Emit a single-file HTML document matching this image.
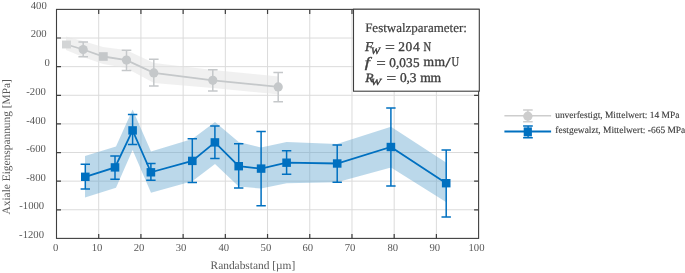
<!DOCTYPE html>
<html><head><meta charset="utf-8"><style>
html,body{text-rendering:geometricPrecision;-webkit-font-smoothing:antialiased;margin:0;padding:0;background:#fff;width:685px;height:273px;overflow:hidden;font-family:"Liberation Serif",serif;font-kerning:none;}
text{font-kerning:none;}
svg{display:block;will-change:transform;}
</style></head><body>
<svg width="685" height="273" viewBox="0 0 685 273">
<path d="M98.71 9.4V238.4 M140.92 9.4V238.4 M183.13 9.4V238.4 M225.34 9.4V238.4 M267.55 9.4V238.4 M309.76 9.4V238.4 M351.97 9.4V238.4 M394.18 9.4V238.4 M436.39 9.4V238.4 M56.5 38.02H478.6 M56.5 66.65H478.6 M56.5 95.28H478.6 M56.5 123.90H478.6 M56.5 152.53H478.6 M56.5 181.15H478.6 M56.5 209.78H478.6" stroke="#dbdbdb" stroke-width="1" fill="none"/>
<polygon points="66,36.5 83,41 103,47 126,50 154,63 213,70 279,76.5 279,94.5 213,88 154,83 126,68 103,64 83,57 66,50" fill="#e6e6e6" fill-opacity="0.6"/>
<polygon points="85,156 116,146.5 132.6,109.6 151,151.4 192.3,139 215,122 238.7,142 261,147.5 286.6,142 337,144 391,126.8 446,162.4 446,202 391,167.4 337,182.3 286.6,183.3 261,188.6 238.7,186.4 215,164 192.3,181.3 151,192.7 132.6,150 116,187.8 85,197.5" fill="#559ecb" fill-opacity="0.4"/>
<polyline points="66.5,44.5 83.2,49.5 103.3,56.5 126.5,60.1 153.8,72.9 212.8,80.3 278.2,86.9" fill="none" stroke="#c5c8ca" stroke-width="1.8"/>
<rect x="62.0" y="40.55" width="9" height="7.9" fill="#d3d5d6"/>
<path d="M83.2 42.0V56.8M78.4 42.0H88.0M78.4 56.8H88.0" stroke="#c5c8ca" stroke-width="1.5" fill="none"/>
<circle cx="83.2" cy="49.5" r="4.6" fill="#c5c8ca"/>
<rect x="98.89999999999999" y="52.2" width="8.8" height="8.6" fill="#c5c8ca"/>
<path d="M126.5 50.2V70.4M121.7 50.2H131.3M121.7 70.4H131.3" stroke="#c5c8ca" stroke-width="1.5" fill="none"/>
<circle cx="126.5" cy="60.1" r="4.6" fill="#c5c8ca"/>
<path d="M153.8 59.2V86.0M149.0 59.2H158.60000000000002M149.0 86.0H158.60000000000002" stroke="#c5c8ca" stroke-width="1.5" fill="none"/>
<circle cx="153.8" cy="72.9" r="4.6" fill="#c5c8ca"/>
<path d="M212.8 69.7V91.0M208.0 69.7H217.60000000000002M208.0 91.0H217.60000000000002" stroke="#c5c8ca" stroke-width="1.5" fill="none"/>
<circle cx="212.8" cy="80.3" r="4.6" fill="#c5c8ca"/>
<path d="M278.2 72.6V101.8M273.4 72.6H283.0M273.4 101.8H283.0" stroke="#c5c8ca" stroke-width="1.5" fill="none"/>
<circle cx="278.2" cy="86.9" r="4.6" fill="#c5c8ca"/>
<polyline points="85.3,176.8 115,167.4 132.6,130.4 150.9,172.3 192.3,160.9 214.9,142.4 238.7,166.2 261.1,168.6 286.6,162.7 337.2,163.5 390.9,147 446.2,183.2" fill="none" stroke="#0070c0" stroke-width="1.8"/>
<path d="M85.3 164.3V188.9M80.6 164.3H90.0M80.6 188.9H90.0" stroke="#0070c0" stroke-width="1.5" fill="none"/>
<rect x="81.0" y="172.60000000000002" width="8.6" height="8.4" fill="#0070c0"/>
<path d="M115 155.9V179.3M110.3 155.9H119.7M110.3 179.3H119.7" stroke="#0070c0" stroke-width="1.5" fill="none"/>
<rect x="110.7" y="163.20000000000002" width="8.6" height="8.4" fill="#0070c0"/>
<path d="M132.6 114.6V144.4M127.89999999999999 114.6H137.29999999999998M127.89999999999999 144.4H137.29999999999998" stroke="#0070c0" stroke-width="1.5" fill="none"/>
<rect x="128.29999999999998" y="126.2" width="8.6" height="8.4" fill="#0070c0"/>
<path d="M150.9 163.5V180.2M146.20000000000002 163.5H155.6M146.20000000000002 180.2H155.6" stroke="#0070c0" stroke-width="1.5" fill="none"/>
<rect x="146.6" y="168.10000000000002" width="8.6" height="8.4" fill="#0070c0"/>
<path d="M192.3 138.8V182.4M187.60000000000002 138.8H197.0M187.60000000000002 182.4H197.0" stroke="#0070c0" stroke-width="1.5" fill="none"/>
<rect x="188.0" y="156.70000000000002" width="8.6" height="8.4" fill="#0070c0"/>
<path d="M214.9 126V158.4M210.20000000000002 126H219.6M210.20000000000002 158.4H219.6" stroke="#0070c0" stroke-width="1.5" fill="none"/>
<rect x="210.6" y="138.20000000000002" width="8.6" height="8.4" fill="#0070c0"/>
<path d="M238.7 143.7V188.1M234.0 143.7H243.39999999999998M234.0 188.1H243.39999999999998" stroke="#0070c0" stroke-width="1.5" fill="none"/>
<rect x="234.39999999999998" y="162.0" width="8.6" height="8.4" fill="#0070c0"/>
<path d="M261.1 131.6V205.7M256.40000000000003 131.6H265.8M256.40000000000003 205.7H265.8" stroke="#0070c0" stroke-width="1.5" fill="none"/>
<rect x="256.8" y="164.4" width="8.6" height="8.4" fill="#0070c0"/>
<path d="M286.6 150.8V174.3M281.90000000000003 150.8H291.3M281.90000000000003 174.3H291.3" stroke="#0070c0" stroke-width="1.5" fill="none"/>
<rect x="282.3" y="158.5" width="8.6" height="8.4" fill="#0070c0"/>
<path d="M337.2 144.9V182.2M332.5 144.9H341.9M332.5 182.2H341.9" stroke="#0070c0" stroke-width="1.5" fill="none"/>
<rect x="332.9" y="159.3" width="8.6" height="8.4" fill="#0070c0"/>
<path d="M390.9 108.1V185.9M386.2 108.1H395.59999999999997M386.2 185.9H395.59999999999997" stroke="#0070c0" stroke-width="1.5" fill="none"/>
<rect x="386.59999999999997" y="142.8" width="8.6" height="8.4" fill="#0070c0"/>
<path d="M446.2 149.9V216.9M441.5 149.9H450.9M441.5 216.9H450.9" stroke="#0070c0" stroke-width="1.5" fill="none"/>
<rect x="441.9" y="179.0" width="8.6" height="8.4" fill="#0070c0"/>
<rect x="56.5" y="9.4" width="422.10" height="229.00" fill="none" stroke="#3f3f3f" stroke-width="1.1"/>
<path d="M98.71 9.4v4.5M98.71 238.4v-4.5 M140.92 9.4v4.5M140.92 238.4v-4.5 M183.13 9.4v4.5M183.13 238.4v-4.5 M225.34 9.4v4.5M225.34 238.4v-4.5 M267.55 9.4v4.5M267.55 238.4v-4.5 M309.76 9.4v4.5M309.76 238.4v-4.5 M351.97 9.4v4.5M351.97 238.4v-4.5 M394.18 9.4v4.5M394.18 238.4v-4.5 M436.39 9.4v4.5M436.39 238.4v-4.5 M56.5 38.02h4.5M478.6 38.02h-4.5 M56.5 66.65h4.5M478.6 66.65h-4.5 M56.5 95.28h4.5M478.6 95.28h-4.5 M56.5 123.90h4.5M478.6 123.90h-4.5 M56.5 152.53h4.5M478.6 152.53h-4.5 M56.5 181.15h4.5M478.6 181.15h-4.5 M56.5 209.78h4.5M478.6 209.78h-4.5" stroke="#3f3f3f" stroke-width="1.2" fill="none"/>
<rect x="353.5" y="9.2" width="125.8" height="82.0" fill="#fff" stroke="#3f3f3f" stroke-width="1.1"/>
<text x="30.79" y="8.70" font-family="'Liberation Serif', serif" font-size="10.67" fill="#595959">400</text>
<text x="30.63" y="37.40" font-family="'Liberation Serif', serif" font-size="10.67" fill="#595959">200</text>
<text x="44.49" y="65.90" font-family="'Liberation Serif', serif" font-size="10.67" fill="#595959">0</text>
<text x="26.30" y="94.70" font-family="'Liberation Serif', serif" font-size="10.67" fill="#595959">-200</text>
<text x="26.30" y="123.60" font-family="'Liberation Serif', serif" font-size="10.67" fill="#595959">-400</text>
<text x="26.30" y="152.00" font-family="'Liberation Serif', serif" font-size="10.67" fill="#595959">-600</text>
<text x="26.30" y="180.75" font-family="'Liberation Serif', serif" font-size="10.67" fill="#595959">-800</text>
<text x="19.30" y="209.30" font-family="'Liberation Serif', serif" font-size="10.67" fill="#595959">-1000</text>
<text x="19.10" y="237.90" font-family="'Liberation Serif', serif" font-size="10.67" fill="#595959">-1200</text>
<text x="52.88" y="250.50" font-family="'Liberation Serif', serif" font-size="10.67" fill="#595959">0</text>
<text x="91.75" y="250.50" font-family="'Liberation Serif', serif" font-size="10.67" fill="#595959">10</text>
<text x="133.73" y="250.50" font-family="'Liberation Serif', serif" font-size="10.67" fill="#595959">20</text>
<text x="175.66" y="250.50" font-family="'Liberation Serif', serif" font-size="10.67" fill="#595959">30</text>
<text x="218.41" y="250.50" font-family="'Liberation Serif', serif" font-size="10.67" fill="#595959">40</text>
<text x="260.56" y="250.50" font-family="'Liberation Serif', serif" font-size="10.67" fill="#595959">50</text>
<text x="302.54" y="250.50" font-family="'Liberation Serif', serif" font-size="10.67" fill="#595959">60</text>
<text x="344.67" y="250.50" font-family="'Liberation Serif', serif" font-size="10.67" fill="#595959">70</text>
<text x="387.52" y="250.50" font-family="'Liberation Serif', serif" font-size="10.67" fill="#595959">80</text>
<text x="429.45" y="250.50" font-family="'Liberation Serif', serif" font-size="10.67" fill="#595959">90</text>
<text x="468.48" y="250.50" font-family="'Liberation Serif', serif" font-size="10.67" fill="#595959">100</text>
<text x="210.57" y="269.30" font-family="'Liberation Serif', serif" font-size="11.4" fill="#595959">Randabstand [µm]</text>
<g transform="translate(10.0 214.4) rotate(-90)">
<text x="-0.11" y="0.00" font-family="'Liberation Serif', serif" font-size="11.4" fill="#595959">Axiale Eigenspannung [MPa]</text>
</g>
<text x="365.13" y="32.10" font-family="'Liberation Serif', serif" font-size="13" fill="#404040" stroke="#404040" stroke-width="0.2">Festwalzparameter:</text>
<text x="364.97" y="50.85" font-family="'Liberation Serif', serif" font-size="13.3" font-style="italic" fill="#404040" stroke="#404040" stroke-width="0.35" textLength="8.02" lengthAdjust="spacingAndGlyphs">F</text>
<text x="370.66" y="53.60" font-family="'Liberation Serif', serif" font-size="9.6" font-style="italic" fill="#404040" stroke="#404040" stroke-width="0.35" textLength="9.29" lengthAdjust="spacingAndGlyphs">W</text>
<text x="384.92" y="51.99" font-family="'Liberation Serif', serif" font-size="15.25" fill="#404040" stroke="#404040" stroke-width="0.2" textLength="9.94" lengthAdjust="spacingAndGlyphs">=</text>
<text x="398.21 405.59 412.94" y="50.85" font-family="'Liberation Serif', serif" font-size="13.4" fill="#404040" stroke="#404040" stroke-width="0.35">204</text>
<text x="423.39" y="50.85" font-family="'Liberation Serif', serif" font-size="13" fill="#404040" stroke="#404040" stroke-width="0.35" textLength="7.65" lengthAdjust="spacingAndGlyphs">N</text>
<text x="364.69" y="66.60" font-family="'Liberation Serif', serif" font-size="14.2" font-style="italic" fill="#404040" stroke="#404040" stroke-width="0.35" textLength="5.17" lengthAdjust="spacingAndGlyphs">f</text>
<text x="376.15" y="67.64" font-family="'Liberation Serif', serif" font-size="15.25" fill="#404040" stroke="#404040" stroke-width="0.2" textLength="9.57" lengthAdjust="spacingAndGlyphs">=</text>
<text x="389.30 395.90 399.20 406.07 412.93" y="66.60" font-family="'Liberation Serif', serif" font-size="13.2" fill="#404040" stroke="#404040" stroke-width="0.35">0,035</text>
<text x="423.51 434.41" y="66.40" font-family="'Liberation Serif', serif" font-size="13.6" fill="#404040" stroke="#404040" stroke-width="0.35">mm</text>
<text x="445.30" y="66.60" font-family="'Liberation Serif', serif" font-size="13.6" fill="#404040" stroke="#404040" stroke-width="0.35" textLength="5.40" lengthAdjust="spacingAndGlyphs">/</text>
<text x="451.48" y="66.40" font-family="'Liberation Serif', serif" font-size="13.6" fill="#404040" stroke="#404040" stroke-width="0.35" textLength="7.64" lengthAdjust="spacingAndGlyphs">U</text>
<text x="365.27" y="81.70" font-family="'Liberation Serif', serif" font-size="12.6" font-style="italic" fill="#404040" stroke="#404040" stroke-width="0.35" textLength="8.35" lengthAdjust="spacingAndGlyphs">R</text>
<text x="370.88" y="84.50" font-family="'Liberation Serif', serif" font-size="9.4" font-style="italic" fill="#404040" stroke="#404040" stroke-width="0.35" textLength="10.38" lengthAdjust="spacingAndGlyphs">W</text>
<text x="386.31" y="82.84" font-family="'Liberation Serif', serif" font-size="15.25" fill="#404040" stroke="#404040" stroke-width="0.2" textLength="10.06" lengthAdjust="spacingAndGlyphs">=</text>
<text x="400.09 406.39 409.76" y="81.70" font-family="'Liberation Serif', serif" font-size="13.4" fill="#404040" stroke="#404040" stroke-width="0.35">0,3</text>
<text x="420.21 430.51" y="81.70" font-family="'Liberation Serif', serif" font-size="13.6" fill="#404040" stroke="#404040" stroke-width="0.35">mm</text>
<path d="M504.4 115.7H551.1" stroke="#cdcdcd" stroke-width="1.6"/>
<path d="M527.9 110V121.7M523.1 110H532.7M523.1 121.7H532.7" stroke="#cdcdcd" stroke-width="1.4" fill="none"/>
<circle cx="527.85" cy="116.2" r="4.65" fill="#cdcdcd"/>
<path d="M504.4 131.5H551.1" stroke="#0070c0" stroke-width="1.8"/>
<path d="M528.1 126V137.7M523.1 126H532.8M523.1 137.7H532.8" stroke="#0070c0" stroke-width="1.4" fill="none"/>
<rect x="523.7" y="127.4" width="8.2" height="9" fill="#0070c0"/>
<text x="555.18" y="117.50" font-family="'Liberation Serif', serif" font-size="9.45" fill="#3a3a3a" stroke="#3a3a3a" stroke-width="0.12">unverfestigt, Mittelwert: 14 MPa</text>
<text x="555.31" y="133.20" font-family="'Liberation Serif', serif" font-size="9.45" fill="#3a3a3a" stroke="#3a3a3a" stroke-width="0.12">festgewalzt, Mittelwert: -665 MPa</text>
</svg>
</body></html>
